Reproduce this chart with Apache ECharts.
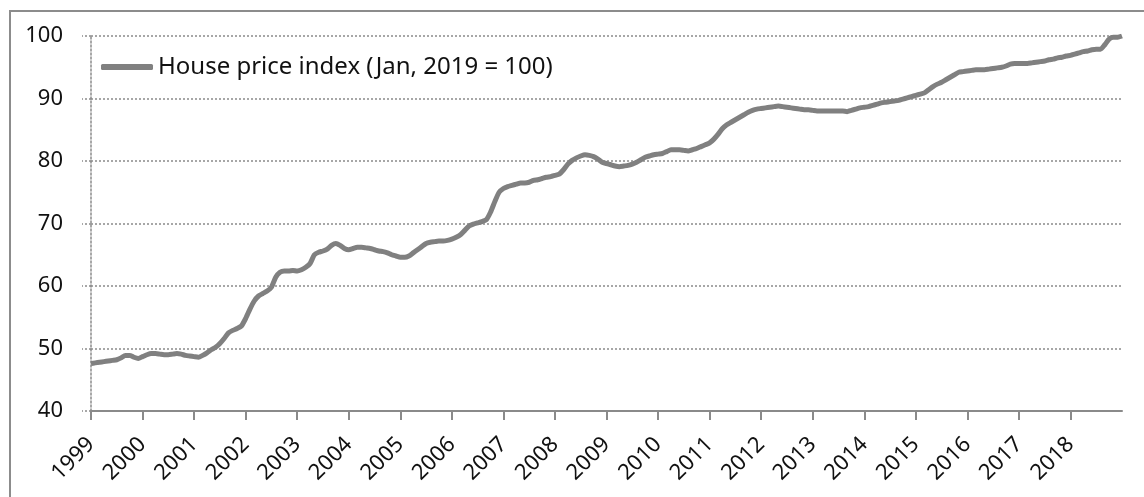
<!DOCTYPE html>
<html>
<head>
<meta charset="utf-8">
<script src="https://cdn.jsdelivr.net/npm/echarts@6/dist/echarts.min.js"></script>
<style>
  html, body { margin: 0; padding: 0; background: #fff; }
  #chart { width: 1144px; height: 497px; }
</style>
</head>
<body>
<div id="chart"></div>
<script>
// monthly index, Jan 1999 .. Jan 2019 (Jan 2019 = 100)
const yearLabels = ['1999', '2000', '2001', '2002', '2003', '2004', '2005', '2006', '2007', '2008',
  '2009', '2010', '2011', '2012', '2013', '2014', '2015', '2016', '2017', '2018']
const yTicks = [40, 50, 60, 70, 80, 90, 100]
const seriesName = 'House price index (Jan, 2019 = 100)'

const hpi = [
  47.6, 47.7, 47.8, 47.9, 48.0, 48.1, 48.2, 48.5, 48.9, 48.9, 48.6, 48.4, // 1999
  48.7, 49.0, 49.2, 49.2, 49.1, 49.0, 49.0, 49.1, 49.2, 49.1, 48.9, 48.8, // 2000
  48.7, 48.6, 48.9, 49.3, 49.8, 50.2, 50.8, 51.6, 52.5, 52.9, 53.2, 53.6, // 2001
  54.8, 56.3, 57.6, 58.4, 58.8, 59.2, 59.8, 61.4, 62.2, 62.4, 62.4, 62.5, // 2002
  62.4, 62.6, 63.0, 63.6, 65.0, 65.4, 65.6, 65.9, 66.5, 66.8, 66.5, 66.0, // 2003
  65.8, 66.0, 66.2, 66.2, 66.1, 66.0, 65.8, 65.6, 65.5, 65.3, 65.0, 64.8, // 2004
  64.6, 64.6, 64.8, 65.3, 65.8, 66.3, 66.8, 67.0, 67.1, 67.2, 67.2, 67.3, // 2005
  67.5, 67.8, 68.2, 68.9, 69.6, 69.9, 70.1, 70.3, 70.6, 71.8, 73.5, 75.0, // 2006
  75.6, 75.9, 76.1, 76.3, 76.5, 76.5, 76.6, 76.9, 77.0, 77.2, 77.4, 77.5, // 2007
  77.7, 77.9, 78.6, 79.5, 80.1, 80.5, 80.8, 81.0, 80.9, 80.7, 80.3, 79.8, // 2008
  79.6, 79.4, 79.2, 79.1, 79.2, 79.3, 79.5, 79.8, 80.2, 80.6, 80.8, 81.0, // 2009
  81.1, 81.2, 81.5, 81.8, 81.8, 81.8, 81.7, 81.6, 81.8, 82.0, 82.3, 82.6, // 2010
  82.9, 83.5, 84.3, 85.2, 85.8, 86.2, 86.6, 87.0, 87.4, 87.8, 88.1, 88.3, // 2011
  88.4, 88.5, 88.6, 88.7, 88.8, 88.7, 88.6, 88.5, 88.4, 88.3, 88.2, 88.2, // 2012
  88.1, 88.0, 88.0, 88.0, 88.0, 88.0, 88.0, 88.0, 87.9, 88.1, 88.3, 88.5, // 2013
  88.6, 88.7, 88.9, 89.1, 89.3, 89.4, 89.5, 89.6, 89.7, 89.9, 90.1, 90.3, // 2014
  90.5, 90.7, 90.9, 91.4, 91.9, 92.3, 92.6, 93.0, 93.4, 93.8, 94.2, 94.3, // 2015
  94.4, 94.5, 94.6, 94.6, 94.6, 94.7, 94.8, 94.9, 95.0, 95.2, 95.5, 95.6, // 2016
  95.6, 95.6, 95.6, 95.7, 95.8, 95.9, 96.0, 96.2, 96.3, 96.5, 96.6, 96.8, // 2017
  96.9, 97.1, 97.3, 97.5, 97.6, 97.8, 97.9, 97.9, 98.6, 99.5, 99.8, 99.8, // 2018
  100.0                                                                    // Jan 2019
]

const chart = echarts.init(document.getElementById('chart'))
const font = '"Noto Sans", "Open Sans", sans-serif'
const gray = '#8a8a8a'

const option = {
  animation: false,
  backgroundColor: '#fff',
  textStyle: { fontFamily: font },
  graphic: [{
    type: 'rect',
    shape: { x: 10, y: 11, width: 1160, height: 520 },
    style: { fill: 'none', stroke: '#8c8c8c', lineWidth: 2 },
    silent: true
  }],
  grid: { left: 91, right: 22, top: 36, bottom: 86 },
  legend: {
    left: 101,
    top: 55,
    padding: 0,
    itemWidth: 52,
    itemHeight: 6,
    icon: 'roundRect',
    textStyle: { fontSize: 24, color: '#111', fontFamily: font },
    data: [seriesName]
  },
  xAxis: {
    type: 'value',
    min: 0,
    max: yearLabels.length * 12,
    interval: 12,
    axisLine: { show: true, lineStyle: { color: gray, width: 2 } },
    axisTick: { show: true, length: 9, lineStyle: { color: gray, width: 2 } },
    splitLine: { show: false },
    axisLabel: {
      rotate: 45,
      margin: 30,
      fontSize: 22,
      color: '#111',
      showMaxLabel: false,
      formatter: v => yearLabels[v / 12] || ''
    }
  },
  yAxis: {
    type: 'value',
    min: yTicks[0],
    max: yTicks[yTicks.length - 1],
    interval: 10,
    axisLine: { show: true, lineStyle: { color: gray, width: 1.5, type: [2, 2] } },
    axisTick: { show: true, length: 9, lineStyle: { color: gray, width: 1.5, type: [2, 2] } },
    splitLine: { show: true, lineStyle: { color: gray, width: 1.5, type: [2, 2] } },
    axisLabel: { margin: 28, fontSize: 22, color: '#111' }
  },
  series: [{
    name: seriesName,
    type: 'line',
    symbol: 'none',
    smooth: 0.2,
    color: '#808080',
    lineStyle: { width: 5, color: '#808080' },
    data: hpi.map((v, i) => [i, v])
  }]
}

chart.setOption(option)
</script>
</body>
</html>
